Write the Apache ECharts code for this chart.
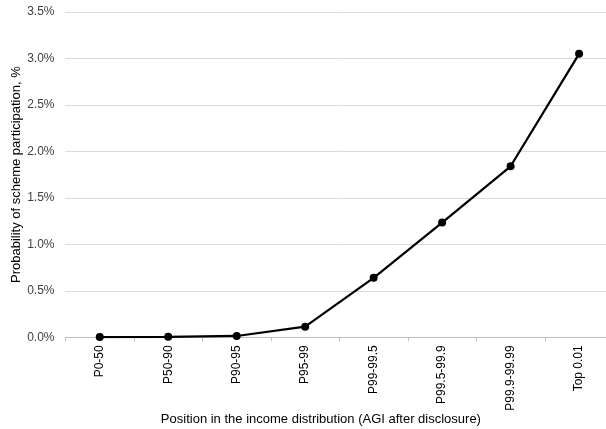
<!DOCTYPE html>
<html>
<head>
<meta charset="utf-8">
<script src="https://cdn.jsdelivr.net/npm/echarts@6/dist/echarts.min.js"></script>
<style>html,body{margin:0;padding:0;background:#fff}#c{width:606px;height:429px}</style>
</head>
<body>
<div id="c"></div>
<script>
const categories = ['P0-50','P50-90','P90-95','P95-99','P99-99.5','P99.5-99.9','P99.9-99.99','Top 0.01'];
const values = [0.003, 0.005, 0.014, 0.114, 0.64, 1.235, 1.84, 3.05];
const yMin = 0, yMax = 3.5, yStep = 0.5;
const xTitle = 'Position in the income distribution (AGI after disclosure)';
const yTitle = 'Probability of scheme participation, %';

const font = 'Liberation Sans, Arial, sans-serif';
const chart = echarts.init(document.getElementById('c'), null, {renderer:'canvas'});
chart.setOption({
  animation: false,
  backgroundColor: '#fff',
  grid: {left: 65.5, right: -7.3, top: 12, bottom: 91.7, containLabel: false, outerBoundsMode: 'none'},
  xAxis: {
    type: 'category',
    data: categories,
    boundaryGap: true,
    name: xTitle,
    nameLocation: 'middle',
    nameGap: 76,
    nameMoveOverlap: false,
    nameTextStyle: {fontFamily: font, fontSize: 13, color: '#000', padding: [0, 37, 0, 0]},
    axisLine: {lineStyle: {color: '#bfbfbf', width: 1}},
    axisTick: {show: true, length: 4, lineStyle: {color: '#bfbfbf'}},
    axisLabel: {rotate: 90, margin: 8, fontFamily: font, fontSize: 12, color: '#000', interval: 0},
    splitLine: {show: false}
  },
  yAxis: {
    type: 'value',
    min: yMin, max: yMax, interval: yStep,
    name: yTitle,
    nameLocation: 'middle',
    nameGap: 43,
    nameMoveOverlap: false,
    nameTextStyle: {fontFamily: font, fontSize: 13, color: '#000'},
    axisLine: {show: false},
    axisTick: {show: false},
    axisLabel: {margin: 11, fontFamily: font, fontSize: 12, color: '#404040', formatter: v => v.toFixed(1) + '%'},
    splitLine: {lineStyle: {color: '#d9d9d9', width: 1}}
  },
  series: [{
    type: 'line',
    data: values,
    symbol: 'circle',
    symbolSize: 8,
    itemStyle: {color: '#000'},
    lineStyle: {color: '#000', width: 2.25},
    z: 3
  }]
});
</script>
</body>
</html>
